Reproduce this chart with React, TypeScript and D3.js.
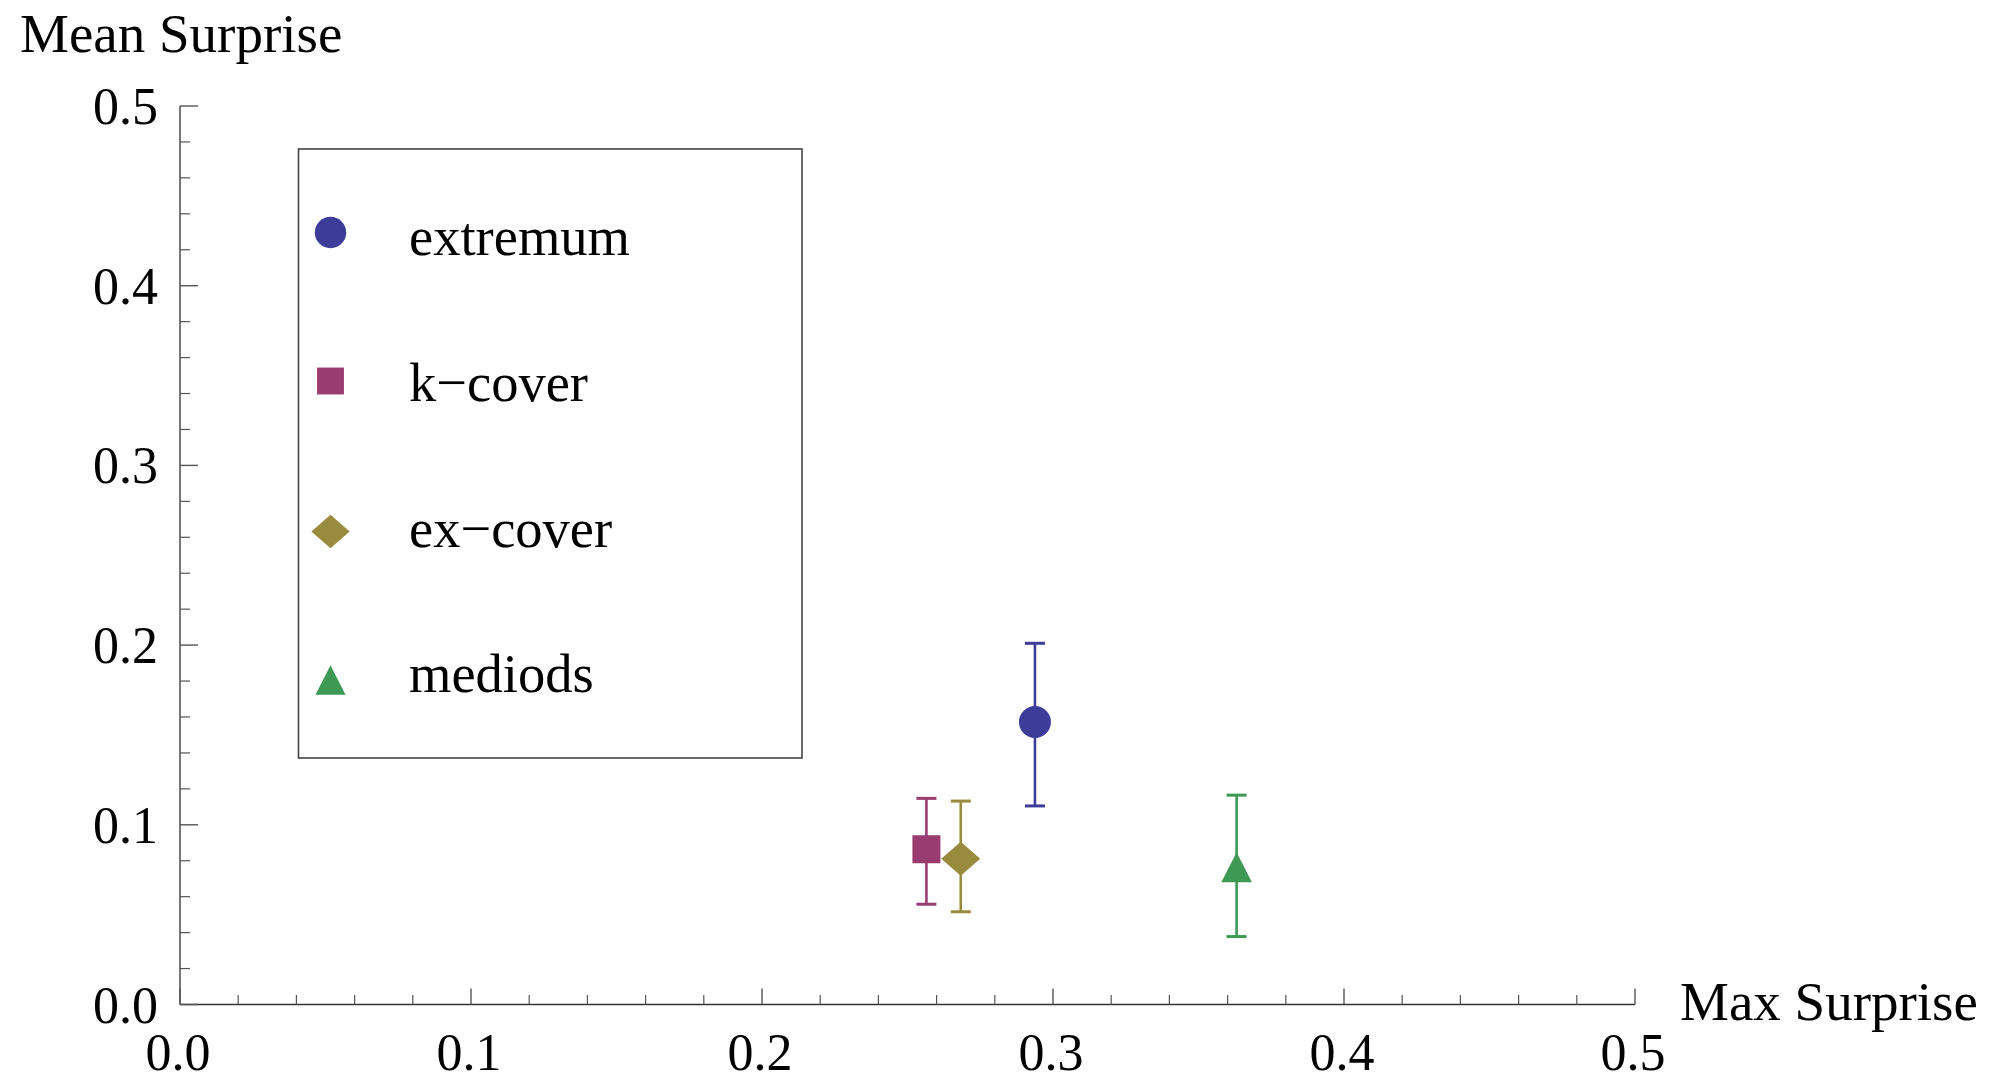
import React from "react";
import * as d3 from "d3";

const seriesNames = ["extremum", "k\u2212cover", "ex\u2212cover", "mediods"];
const seriesColors = ["#3d3d99", "#993d71", "#998b3d", "#3d9954"];
const seriesShapes = ["circle", "square", "diamond", "triangle"];
const maxSurprise = [0.2938, 0.2565, 0.2683, 0.3631];
const meanSurprise = [0.1572, 0.0864, 0.0811, 0.0758];
const errLow = [0.1105, 0.0558, 0.0516, 0.0378];
const errHigh = [0.201, 0.1147, 0.1132, 0.1165];
const xTicks = [0, 0.1, 0.2, 0.3, 0.4, 0.5];
const yTicks = [0, 0.1, 0.2, 0.3, 0.4, 0.5];
const minorTicks = [0.02, 0.04, 0.06, 0.08, 0.12, 0.14, 0.16, 0.18, 0.22, 0.24, 0.26, 0.28, 0.32, 0.34, 0.36, 0.38, 0.42, 0.44, 0.46, 0.48];

const W = 1998;
const H = 1083;
const FONT = "'Liberation Serif', 'Times New Roman', serif";

function Marker({ shape, color, cx, cy, s = 1 }: { shape: string; color: string; cx: number; cy: number; s?: number }) {
  if (shape === "circle") return <circle cx={cx} cy={cy} r={16 * s} fill={color} />;
  if (shape === "square") return <rect x={cx - 14 * s} y={cy - 14 * s} width={28 * s} height={28 * s} fill={color} />;
  if (shape === "diamond")
    return (
      <path
        d={`M${cx - 19.5 * s},${cy} L${cx},${cy - 17 * s} L${cx + 19.5 * s},${cy} L${cx},${cy + 17 * s} Z`}
        fill={color}
      />
    );
  return (
    <path
      d={`M${cx},${cy - 16 * s} L${cx + 15.3 * s},${cy + 14 * s} L${cx - 15.3 * s},${cy + 14 * s} Z`}
      fill={color}
    />
  );
}

export default function App() {
  const x = d3.scaleLinear().domain([0, 0.5]).range([180, 1635]);
  const y = d3.scaleLinear().domain([0, 0.5]).range([1004.5, 106]);
  const axisColor = "#555";

  const legendX = 330.5;
  const legendRowsY = [232.5, 381, 531.5, 681];
  const legendTextY = [255, 400.5, 546.5, 692];

  return (
    <svg
      width={W}
      height={H}
      style={{ position: "absolute", left: 0, top: 0, background: "#fff" }}
      fontFamily={FONT}
    >
      <rect x={0} y={0} width={W} height={H} fill="#fff" />
      {/* axes */}
      <line x1={x(0)} x2={x(0.5)} y1={y(0)} y2={y(0)} stroke="#333" strokeWidth={1.6} />
      <line x1={x(0)} x2={x(0)} y1={y(0)} y2={y(0.5)} stroke={axisColor} strokeWidth={1.6} />
      {xTicks.map((t) => (
        <line key={"xt" + t} x1={x(t)} x2={x(t)} y1={y(0)} y2={y(0) - 16} stroke={axisColor} strokeWidth={1.4} />
      ))}
      {minorTicks.map((t) => (
        <line key={"xm" + t} x1={x(t)} x2={x(t)} y1={y(0)} y2={y(0) - 9.5} stroke={axisColor} strokeWidth={1.2} />
      ))}
      {yTicks.map((t) => (
        <line key={"yt" + t} x1={x(0)} x2={x(0) + 18} y1={y(t)} y2={y(t)} stroke={axisColor} strokeWidth={1.4} />
      ))}
      {minorTicks.map((t) => (
        <line key={"ym" + t} x1={x(0)} x2={x(0) + 10} y1={y(t)} y2={y(t)} stroke={axisColor} strokeWidth={1.2} />
      ))}
      {xTicks.map((t) => (
        <text key={"xl" + t} x={x(t) - 2} y={1070} fontSize={52} textAnchor="middle" fill="#000">
          {d3.format(".1f")(t)}
        </text>
      ))}
      {yTicks.map((t) => (
        <text key={"yl" + t} x={158} y={y(t) + 18} fontSize={52} textAnchor="end" fill="#000">
          {d3.format(".1f")(t)}
        </text>
      ))}
      <text x={20} y={52} fontSize={55} fill="#000">
        Mean Surprise
      </text>
      <text x={1680} y={1020} fontSize={55} fill="#000">
        Max Surprise
      </text>

      {/* error bars */}
      {seriesNames.map((n, i) => (
        <g key={"eb" + i} stroke={seriesColors[i]}>
          <line x1={x(maxSurprise[i])} x2={x(maxSurprise[i])} y1={y(errLow[i])} y2={y(errHigh[i])} strokeWidth={2.6} />
          <line x1={x(maxSurprise[i]) - 10} x2={x(maxSurprise[i]) + 10} y1={y(errLow[i])} y2={y(errLow[i])} strokeWidth={3} />
          <line x1={x(maxSurprise[i]) - 10} x2={x(maxSurprise[i]) + 10} y1={y(errHigh[i])} y2={y(errHigh[i])} strokeWidth={3} />
        </g>
      ))}
      {seriesNames.map((n, i) => (
        <Marker key={"pt" + i} shape={seriesShapes[i]} color={seriesColors[i]} cx={x(maxSurprise[i])} cy={y(meanSurprise[i])} />
      ))}

      {/* legend */}
      <rect x={298.5} y={149} width={503.5} height={609} fill="none" stroke="#444" strokeWidth={1.6} />
      {seriesNames.map((n, i) => (
        <g key={"lg" + i}>
          <Marker shape={seriesShapes[i]} color={seriesColors[i]} cx={legendX} cy={legendRowsY[i]} s={i === 1 ? 0.96 : 0.98} />
          <text x={409} y={legendTextY[i]} fontSize={54.5} fill="#000">
            {n}
          </text>
        </g>
      ))}
    </svg>
  );
}
